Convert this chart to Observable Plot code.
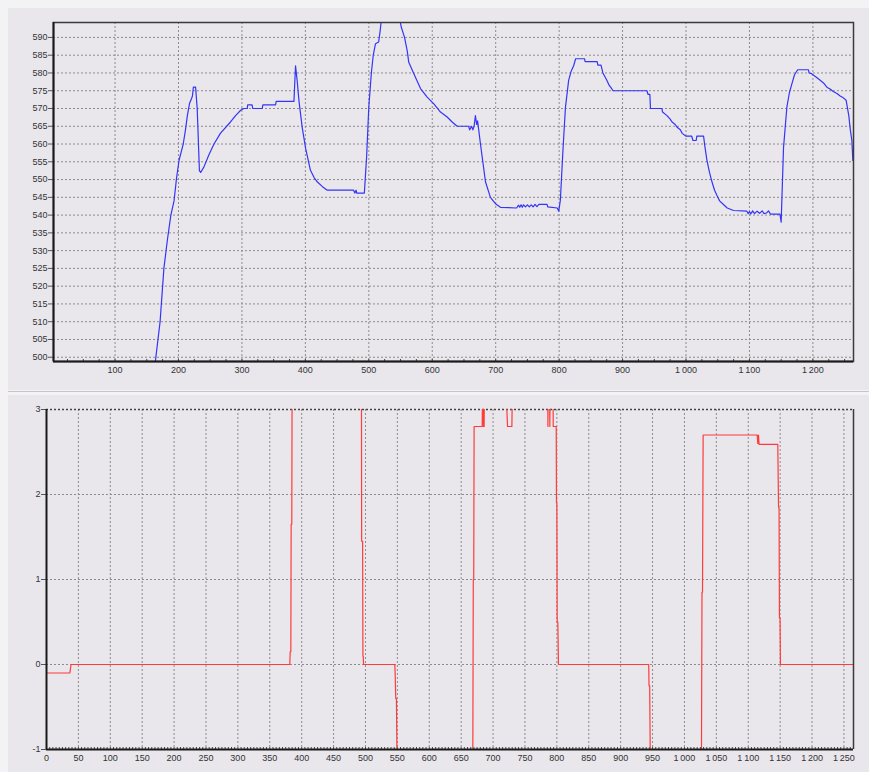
<!DOCTYPE html>
<html>
<head>
<meta charset="utf-8">
<script src="https://cdn.jsdelivr.net/npm/d3@7"></script>
<script src="https://cdn.jsdelivr.net/npm/@observablehq/plot@0.6"></script>
<style>
  html, body { margin: 0; padding: 0; }
  body { width: 869px; height: 772px; background: #f3f2f5; position: relative; overflow: hidden; font-family: "Liberation Sans", Arial, sans-serif; }
  .panel { position: absolute; background: #e9e7ec; }
  #p1 { left: 8px; top: 8px; width: 861px; height: 382px; }
  #sep { position: absolute; left: 8px; top: 391px; width: 861px; height: 1px; background: #c6c5c9; }
  #p2 { left: 8px; top: 395px; width: 861px; height: 377px; }
  #top, #bottom { position: absolute; left: 0; }
  #top { top: 0; }
  #bottom { top: 392px; }
</style>
</head>
<body>
<div class="panel" id="p1"></div>
<div id="sep"></div>
<div class="panel" id="p2"></div>
<div id="top"></div>
<div id="bottom"></div>
<script>
// ---- Top panel data (blue) ----
const topX = [163,171,177,182.5,188,193,197,201,207.5,211,214,217.5,220,222,223.5,227,229.5,233,235,240,248,256,266,282,290,298,303,308.5,309,316,317,332,333,353,354,382,384.5,387,390,395,400.5,408,414,419,427,434.5,476,478,480,481,493,496.5,500,504,507,510.5,515.5,518,521,547,551,556.3,560.5,563,571,581.5,592,602.5,613,623.5,631.4,639.3,657.5,659,662,664,666,668,670,671.5,676,684,691.7,699.6,707.5,733,736,738,740,742,744,747,750,753,756,759,762,765,768,781,782,797,799.4,802,806,810,815,819,823,826,840,841,860,861,866,869,875,879,882,885,938.5,940,943,944,962,963,970,975,978,983,986,991,994,1000,1009,1011,1016,1017,1027.7,1030,1033,1037,1041,1045,1048.8,1053,1059,1065,1075,1096,1098,1100,1102,1105,1108,1112,1116,1120,1123,1127,1130,1133,1148,1150,1153.7,1159,1163,1167,1171,1176,1193,1194,1198,1200,1206,1211,1216.7,1222,1227,1232,1238,1243,1248,1252.4,1256.6,1259,1261.4,1263];
const topY = [498,510,525,533,540,544,550.5,555.5,560,564,568,571.5,572.5,573.5,576,576,570,552.5,552,553.5,557,560,563,566.2,568,569.5,570,570,571,571,570,570,571,571,572,572,582,578,572,564.7,558.7,552.6,550.5,549.3,548,547,547,546.2,547,546.2,546.2,556.3,570.4,580,585,588.2,588.7,592,597,597,593,590,586.3,583,579.8,575.6,573.2,571.3,569,567.6,566.2,565,565,564,565,564,565,568,565.5,566.5,560,549.3,545,543.2,542.2,542,542.8,542.2,542.9,542.2,542.9,542.3,542.9,542.3,542.9,542.3,543,542.4,543,543,542.3,542,541.1,544.3,558.2,570.4,577.9,580.5,582.1,584,584,583.2,583.2,582.2,582.2,580,578,576.5,575.8,575,575,574,574,570,570,569,568,567,566.2,565.5,564.7,564,563,562.2,562.2,561,561,562.2,562.2,559,555.4,552,549.3,547,545.5,544,543,542,541.3,541.1,540.4,541,540.3,541.2,540.4,541.1,540.5,541.2,540.4,540.6,541.2,540.3,540.3,538,559,570.4,574.5,577,579.5,580.9,580.9,580,579.8,579.5,578.7,578,577.2,576,575.5,574.8,574.2,573.5,573,572.3,568,564,561,555.4];
const topXTicks = [100,200,300,400,500,600,700,800,900,1000,1100,1200];
const topXMinor = d3.range(25, 1264, 25);
const topYTicks = d3.range(500, 591, 5);
const topXDomain = [3, 1264];
const topYDomain = [498.8, 594.2];

// ---- Bottom panel data (red) ----
const botX = [0,36.6,38.5,381.4,382,383,383.5,384.5,385,493.7,494,495.5,496,496.5,497,546,546.5,547.5,548.5,549.7,668.2,669,669.7,670.3,683,683.5,684.5,685,686,686.5,720,722.7,729.5,730.4,785.7,786,786.5,788.5,789,789.5,794,794.3,799,799.4,800,800.5,801.5,802.5,944,944.5,945.5,946.7,1026.6,1027.5,1028.3,1029.3,1114,1115,1116,1117,1146.3,1147.5,1148.3,1148.9,1149.8,1150.5,1265];
const botY = [-0.1,-0.1,0,0,0.15,0.15,1.65,1.65,3.3,3.3,1.45,1.45,0.1,0.1,0,0,-0.1,-0.4,-0.4,-1.3,-1.3,1,1,2.8,2.8,3.3,3.3,2.8,2.8,3.3,3.3,2.8,2.8,3.3,3.3,2.8,3.3,3.3,2.8,3.3,3.3,2.8,2.8,1.9,1.9,0.5,0.5,0,0,-0.25,-0.25,-1.3,-1.3,0.85,0.85,2.7,2.7,2.6,2.7,2.59,2.59,1.85,1.85,0.55,0.55,0,0];
const botXTicks = d3.range(0, 1251, 50);
const botXMinor = d3.range(5, 1265, 5);
const botYTicks = [-1, 0, 1, 2, 3];
const botXDomain = [0, 1265];
const botYDomain = [-1, 3];

const fmt = d => d3.format(",")(d).replace(/,/g, "\u2009");
const intFmt = d => String(d);
const topData = topX.map((x, i) => ({x, y: topY[i]}));
const botData = botX.map((x, i) => ({x, y: botY[i]}));

const gridStyle = {stroke: "#8c8b90", strokeOpacity: 1, strokeDasharray: "2,2", strokeWidth: 1};
const baseStyle = {background: "transparent", fontFamily: "Liberation Sans, Arial, sans-serif", fontSize: "9px", color: "#333"};

const topChart = Plot.plot({
  width: 869, height: 390,
  marginLeft: 53, marginRight: 16, marginTop: 22, marginBottom: 29,
  style: baseStyle,
  x: {domain: topXDomain},
  y: {domain: topYDomain},
  marks: [
    Plot.gridX({ticks: topXTicks, ...gridStyle}),
    Plot.gridY({ticks: topYTicks, ...gridStyle}),
    Plot.axisY({ticks: topYTicks, tickSize: 5, tickPadding: 1, tickFormat: intFmt, label: null, stroke: "#555"}),
    Plot.axisX({ticks: topXTicks, tickSize: 0, tickPadding: 5, tickFormat: fmt, label: null}),
    Plot.axisX({ticks: topXMinor, tickSize: 2, dy: -2, tickFormat: () => "", label: null, stroke: "#444"}),
    Plot.line(topData, {x: "x", y: "y", stroke: "#3535f5", strokeWidth: 1.2, clip: true}),
    Plot.frame({stroke: "#3a3a3a", strokeWidth: 1.5}),
    Plot.ruleX([topXDomain[0]], {stroke: "#1a1a1a", strokeWidth: 2}),
    Plot.ruleY([topYDomain[0]], {stroke: "#1a1a1a", strokeWidth: 2})
  ]
});
document.getElementById("top").appendChild(topChart);

const botChart = Plot.plot({
  width: 869, height: 380,
  marginLeft: 46, marginRight: 16, marginTop: 17, marginBottom: 23,
  style: baseStyle,
  x: {domain: botXDomain},
  y: {domain: botYDomain},
  marks: [
    Plot.gridX({ticks: botXTicks.filter(d => d > 0), ...gridStyle}),
    Plot.gridY({ticks: [0, 1, 2], ...gridStyle}),
    Plot.ruleY([3], {stroke: "#444", strokeDasharray: "2,2", strokeWidth: 1.3}),
    Plot.axisY({ticks: botYTicks, tickSize: 5, tickPadding: 1, tickFormat: intFmt, label: null, stroke: "#555"}),
    Plot.axisX({ticks: botXTicks, tickSize: 0, tickPadding: 5, tickFormat: fmt, label: null}),
    Plot.axisX({ticks: botXMinor, tickSize: 2, dy: -2, tickFormat: () => "", label: null, stroke: "#444"}),
    Plot.line(botData, {x: "x", y: "y", stroke: "#ff3b3b", strokeWidth: 1.2, clip: true}),
    Plot.ruleX([botXDomain[1]], {stroke: "#3a3a3a", strokeWidth: 1.5}),
    Plot.ruleX([botXDomain[0]], {stroke: "#1a1a1a", strokeWidth: 2}),
    Plot.ruleY([botYDomain[0]], {stroke: "#1a1a1a", strokeWidth: 2})
  ]
});
document.getElementById("bottom").appendChild(botChart);
</script>
</body>
</html>
